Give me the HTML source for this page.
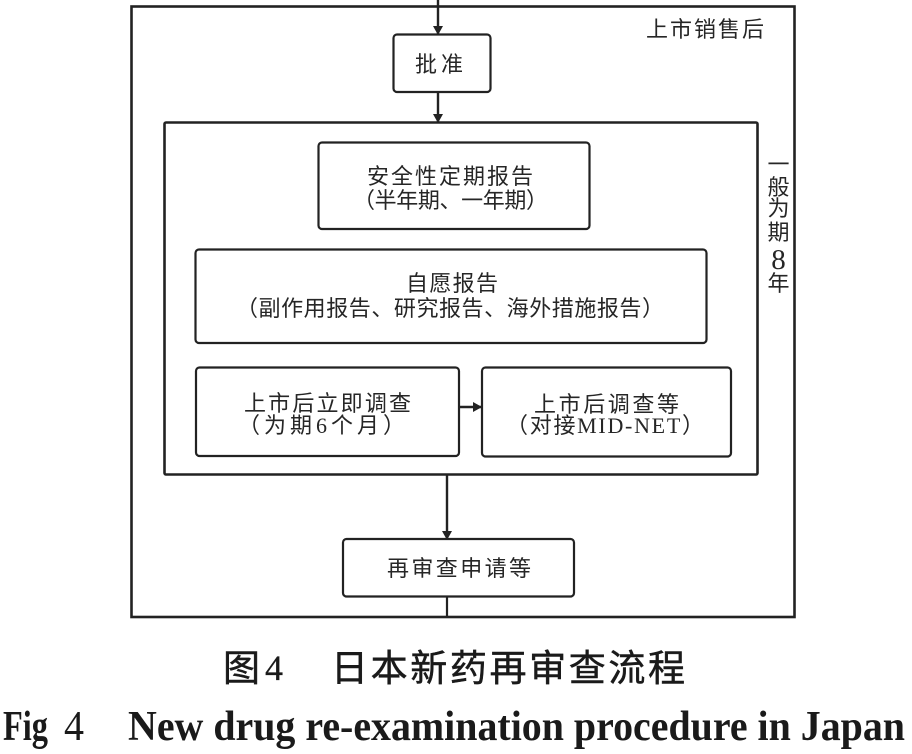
<!DOCTYPE html>
<html>
<head>
<meta charset="utf-8">
<style>
  html, body { margin:0; padding:0; background:#fff; }
  svg { display:block; }
  .cj { font-family: "Liberation Serif", "Noto Sans CJK SC", serif; fill:#262626; }
  .cap { font-family: "Liberation Sans", "Noto Sans CJK SC", sans-serif; fill:#1a1a1a; stroke:#1a1a1a; stroke-width:0.5; }
  .en { font-family: "Liberation Serif", serif; fill:#1a1a1a; }
</style>
</head>
<body>
<svg width="912" height="754" viewBox="0 0 912 754" xmlns="http://www.w3.org/2000/svg">
  <g fill="none" stroke="#222">
    <!-- outer box -->
    <rect x="131.5" y="6.5" width="663" height="610.5" stroke-width="2.6"/>
    <!-- inner box -->
    <rect x="164.5" y="122.5" width="593" height="352" stroke-width="2.6" rx="1.5"/>
    <!-- boxes -->
    <rect x="393.5" y="34.5" width="97" height="57.5" rx="3.5" stroke-width="2.2"/>
    <rect x="318.5" y="142.5" width="271" height="86.5" rx="3.5" stroke-width="2.2"/>
    <rect x="195.5" y="249.5" width="511" height="93.5" rx="3.5" stroke-width="2.2"/>
    <rect x="196" y="367.5" width="263" height="88.5" rx="3.5" stroke-width="2.2"/>
    <rect x="482" y="367.5" width="249" height="89" rx="3.5" stroke-width="2.2"/>
    <rect x="343" y="539" width="231" height="57.5" rx="3.5" stroke-width="2.2"/>
    <!-- connectors -->
    <line x1="438" y1="0" x2="438" y2="34" stroke-width="2.4"/>
    <line x1="438" y1="92" x2="438" y2="122" stroke-width="2.4"/>
    <line x1="459" y1="407" x2="482" y2="407" stroke-width="2.4"/>
    <line x1="447" y1="475" x2="447" y2="539" stroke-width="2.4"/>
    <line x1="447" y1="596.5" x2="447" y2="617" stroke-width="2.2"/>
  </g>
  <!-- arrowheads -->
  <g fill="#222">
    <path d="M433,26 L443,26 L438,35 Z"/>
    <path d="M433,114 L443,114 L438,123 Z"/>
    <path d="M442,531 L452,531 L447,540 Z"/>
    <path d="M473,402 L473,412 L482,407 Z"/>
  </g>

  <!-- labels -->
  <g class="cj" font-size="22">
    <text x="646" y="37" textLength="118">上市销售后</text>
    <text x="415" y="72" textLength="48">批准</text>
    <text x="367" y="184" textLength="166">安全性定期报告</text>
    <text x="353" y="208" textLength="195">（半年期、一年期）</text>
    <text x="406" y="291" textLength="92">自愿报告</text>
    <text x="236" y="316" textLength="428">（副作用报告、研究报告、海外措施报告）</text>
    <text x="244" y="411" textLength="167">上市后立即调查</text>
    <text x="238" y="433" textLength="167">（为期6个月）</text>
    <text x="534" y="412" textLength="145">上市后调查等</text>
    <text x="506" y="433" textLength="198">（对接MID-NET）</text>
    <text x="387" y="576" textLength="144">再审查申请等</text>
  </g>
  <!-- vertical side label -->
  <g class="cj" font-size="22" text-anchor="middle">
    <text x="778.5" y="172">一</text>
    <text x="778.5" y="195">般</text>
    <text x="778.5" y="216">为</text>
    <text x="778.5" y="240">期</text>
    <text x="778.5" y="269" font-size="29">8</text>
    <text x="778.5" y="291">年</text>
  </g>

  <!-- captions -->
  <text class="cap" x="223" y="681" font-size="37" textLength="37">图</text>
  <text class="en" x="265" y="680" font-size="36" stroke="#1a1a1a" stroke-width="0.3">4</text>
  <text class="cap" x="331" y="681" font-size="37" textLength="354">日本新药再审查流程</text>

  <text class="en" x="3" y="740" font-size="42" font-weight="bold" textLength="45" lengthAdjust="spacingAndGlyphs">Fig</text>
  <text class="en" x="64" y="740" font-size="42" textLength="20" lengthAdjust="spacingAndGlyphs">4</text>
  <text class="en" x="128" y="740" font-size="42" font-weight="bold" textLength="777" lengthAdjust="spacingAndGlyphs">New drug re-examination procedure in Japan</text>
</svg>
</body>
</html>
